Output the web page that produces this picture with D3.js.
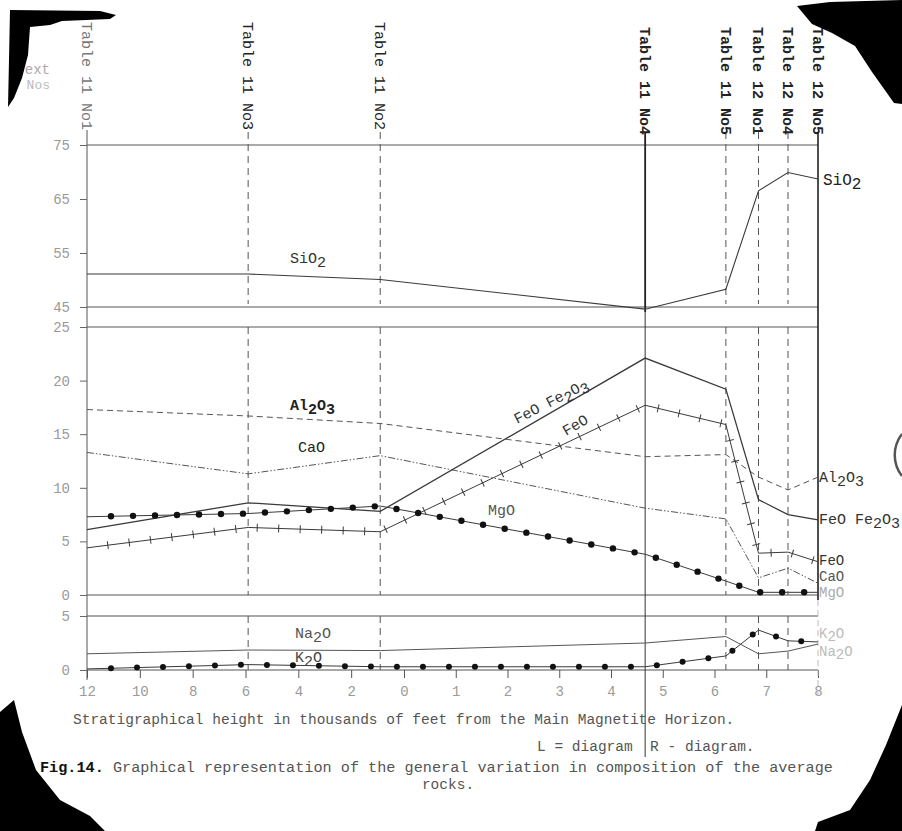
<!DOCTYPE html>
<html>
<head>
<meta charset="utf-8">
<script src="https://cdn.jsdelivr.net/npm/d3@7"></script>
<style>
body { margin: 0; background: #fff; }
svg { display: block; }
text { font-family: "Liberation Mono", "DejaVu Sans Mono", monospace; }
</style>
</head>
<body>
<svg id="chart" width="902" height="831"></svg>
<script>
// analyses along the section (thousands of feet; negative = L diagram, read 12..0)
var tables = ["Table 11 No1", "Table 11 No3", "Table 11 No2", "Table 11 No4",
              "Table 11 No5", "Table 12 No1", "Table 12 No4", "Table 12 No5"];
var tablePos = [-12, -5.9, -0.9, 4.66, 6.22, 6.85, 7.42, 8.0];

// oxide percentages, one per table
var sio2  = [51.1, 51.1, 50.1, 44.6, 48.3, 66.5, 69.9, 68.7];
var al2o3 = [17.3, 16.7, 16.0, 12.9, 13.1, 11.0, 9.8, 11.0];
var cao   = [13.3, 11.3, 13.0, 8.1, 7.1, 1.6, 2.5, 1.1];
var feTot = [6.1, 8.6, 7.8, 22.1, 19.2, 8.9, 7.5, 7.0];
var feo   = [4.4, 6.3, 5.9, 17.7, 15.9, 3.9, 4.0, 3.1];
var mgo   = [7.3, 7.6, 8.3, 3.8, 1.3, 0.25, 0.25, 0.25];
var na2o  = [1.5, 1.85, 1.8, 2.5, 3.1, 1.5, 1.75, 2.4];
var k2o   = [0.1, 0.5, 0.3, 0.3, 1.3, 3.7, 2.7, 2.6];

var xTicks = [-12, -10, -8, -6, -4, -2, 0, 1, 2, 3, 4, 5, 6, 7, 8];
var yTicksTop = [45, 55, 65, 75];
var yTicksMid = [0, 5, 10, 15, 20, 25];
var yTicksBot = [0, 5];

var svg = d3.select("#chart");
var ink = "#3a3a3a";

var x = d3.scaleLinear().domain([-12, 0, 8]).range([87, 404, 818]);
var yTop = d3.scaleLinear().domain([45, 75]).range([307, 145]);
var yMid = d3.scaleLinear().domain([0, 25]).range([595, 327]);
var yBot = d3.scaleLinear().domain([0, 5]).range([670, 616]);

var x0 = x(-12), x1 = x(8);

// panel frames
[[yTop, 75], [yTop, 45], [yMid, 25], [yMid, 0], [yBot, 5], [yBot, 0]].forEach(function(p) {
  svg.append("line")
    .attr("x1", x0).attr("x2", x1)
    .attr("y1", p[0](p[1])).attr("y2", p[0](p[1]))
    .attr("stroke", "#555").attr("stroke-width", 1);
});

// left axis line
svg.append("line").attr("x1", x0).attr("x2", x0).attr("y1", 130).attr("y2", 680)
  .attr("stroke", "#555");

// y axes
function yAxis(scale, ticks) {
  var g = svg.append("g").attr("transform", "translate(" + x0 + ",0)")
    .call(d3.axisLeft(scale).tickValues(ticks).tickFormat(d3.format("d"))
      .tickSize(7).tickPadding(10));
  g.select(".domain").remove();
  g.selectAll("line").attr("stroke", "#666");
  g.selectAll("text").attr("fill", "#9a9a9a").style("font-size", "14px")
    .style("font-family", "Liberation Mono, monospace");
}
yAxis(yTop, yTicksTop);
yAxis(yMid, yTicksMid);
yAxis(yBot, yTicksBot);

// x axis
var gx = svg.append("g").attr("transform", "translate(0," + yBot(0) + ")")
  .call(d3.axisBottom(x).tickValues(xTicks).tickFormat(function(d) { return Math.abs(d); })
    .tickSize(8).tickPadding(8));
gx.select(".domain").remove();
gx.selectAll("line").attr("stroke", "#555");
gx.selectAll("text").attr("fill", "#9a9a9a").style("font-size", "14px")
  .style("font-family", "Liberation Mono, monospace");

// vertical table lines
var panels = [[132, yTop(45) - 3], [yMid(25), yMid(0)], [yBot(5), yBot(0)]];
tables.forEach(function(t, i) {
  if (i === 0) return;
  var xp = x(tablePos[i]);
  if (i === 3) {
    svg.append("line").attr("x1", xp).attr("x2", xp).attr("y1", 132).attr("y2", 312)
      .attr("stroke", "#222").attr("stroke-width", 1.8);
    svg.append("line").attr("x1", xp).attr("x2", xp).attr("y1", 312).attr("y2", 757)
      .attr("stroke", "#333").attr("stroke-width", 1);
  } else if (i === 7) {
    svg.append("line").attr("x1", xp).attr("x2", xp).attr("y1", 132).attr("y2", 600)
      .attr("stroke", "#222").attr("stroke-width", 1.6);
    svg.append("line").attr("x1", xp).attr("x2", xp).attr("y1", 600).attr("y2", 700)
      .attr("stroke", "#bbb").attr("stroke-width", 1).attr("stroke-dasharray", "6,4");
  } else {
    panels.forEach(function(p) {
      svg.append("line").attr("x1", xp).attr("x2", xp).attr("y1", p[0]).attr("y2", p[1])
        .attr("stroke", "#555").attr("stroke-width", 1).attr("stroke-dasharray", "7,5");
    });
  }
});

// table labels (rotated, reading downwards)
svg.selectAll(".tlab").data(tables).enter().append("text")
  .attr("class", "tlab")
  .attr("transform", function(d, i) {
    return "translate(" + x(tablePos[i]) + "," + (i < 3 ? 22 : 27) + ") rotate(90)";
  })
  .attr("dy", "0.35em")
  .style("font-size", "15px")
  .attr("fill", function(d, i) { return i === 0 ? "#777" : "#222"; })
  .attr("font-weight", function(d, i) { return i >= 3 ? "bold" : "normal"; })
  .text(function(d) { return d; });

// series
function series(scale, vals, opts) {
  var line = d3.line().x(function(d, i) { return x(tablePos[i]); }).y(function(d) { return scale(d); });
  return svg.append("path").datum(vals).attr("d", line)
    .attr("fill", "none").attr("stroke", opts.color || ink)
    .attr("stroke-width", opts.width || 1)
    .attr("stroke-dasharray", opts.dash || null);
}

function along(path, step, start) {
  var node = path.node(), len = node.getTotalLength(), pts = [];
  for (var s = start; s < len - 4; s += step) {
    var p = node.getPointAtLength(s), q = node.getPointAtLength(Math.min(len, s + 1));
    pts.push({ x: p.x, y: p.y, a: Math.atan2(q.y - p.y, q.x - p.x) * 180 / Math.PI });
  }
  return pts;
}

series(yTop, sio2, { width: 1.1 });
series(yMid, al2o3, { dash: "6,4", color: "#555" });
series(yMid, cao, { dash: "7,2,1.5,2,1.5,2", color: "#555" });
series(yMid, feTot, { width: 1.3 });
var feoPath = series(yMid, feo, { width: 1 });
var mgoPath = series(yMid, mgo, { width: 1 });
series(yBot, na2o, { width: 1, color: "#555" });
var k2oPath = series(yBot, k2o, { width: 1 });

svg.selectAll(".fetick").data(along(feoPath, 21.5, 21)).enter().append("line")
  .attr("class", "fetick")
  .attr("transform", function(d) { return "translate(" + d.x + "," + d.y + ") rotate(" + d.a + ")"; })
  .attr("x1", 0).attr("x2", 0).attr("y1", -4).attr("y2", 4)
  .attr("stroke", ink).attr("stroke-width", 1);

svg.selectAll(".mgdot").data(along(mgoPath, 22, 24)).enter().append("circle")
  .attr("class", "mgdot").attr("cx", function(d) { return d.x; }).attr("cy", function(d) { return d.y; })
  .attr("r", 3.2).attr("fill", "#111");

svg.selectAll(".kdot").data(along(k2oPath, 26, 24)).enter().append("circle")
  .attr("class", "kdot").attr("cx", function(d) { return d.x; }).attr("cy", function(d) { return d.y; })
  .attr("r", 3).attr("fill", "#111");

// chemical labels: "_n" marks a subscript digit
function chem(px, py, str, opts) {
  opts = opts || {};
  var sub = opts.sub || 4, shift = 0;
  var t = svg.append("text").attr("x", px).attr("y", py)
    .style("font-size", (opts.size || 15) + "px")
    .attr("fill", opts.color || "#333")
    .attr("font-weight", opts.bold ? "bold" : "normal");
  if (opts.rotate) t.attr("transform", "rotate(" + opts.rotate + "," + px + "," + py + ")");
  str.split(/(_\d)/).forEach(function(part) {
    if (!part) return;
    if (part[0] === "_") {
      t.append("tspan").attr("dy", sub - shift).text(part.slice(1));
      shift = sub;
    } else {
      t.append("tspan").attr("dy", -shift).text(part);
      shift = 0;
    }
  });
  return t;
}

chem(290, 263, "SiO_2");
chem(823, 185, "SiO_2", { size: 16, color: "#222" });
chem(290, 410, "Al_2O_3", { bold: true, color: "#222" });
chem(298, 452, "CaO", { color: "#222" });
chem(488, 515, "MgO", { color: "#555" });
chem(517, 424, "FeO Fe_2O_3", { rotate: -27, color: "#333" });
chem(566, 436, "FeO", { rotate: -30, color: "#333" });
chem(819, 482, "Al_2O_3", { color: "#333" });
chem(819, 524, "FeO Fe_2O_3", { color: "#333" });
chem(819, 565, "FeO", { color: "#333", size: 14 });
chem(819, 581, "CaO", { color: "#555", size: 14 });
chem(819, 597, "MgO", { color: "#aaa", size: 14 });
chem(295, 638, "Na_2O", { color: "#555" });
chem(295, 662, "K_2O", { color: "#444" });
chem(819, 638, "K_2O", { color: "#bbb", size: 14, sub: 3 });
chem(819, 656, "Na_2O", { color: "#bbb", size: 14, sub: 3 });

// captions
var cap = svg.append("g").style("font-size", "14.5px");
cap.append("text").attr("x", 73).attr("y", 724).attr("fill", "#555")
  .text("Stratigraphical height in thousands of feet from the Main Magnetite Horizon.");
cap.append("text").attr("x", 537).attr("y", 751).attr("fill", "#555")
  .text("L = diagram\u00a0\u00a0R - diagram.");
var fig = cap.append("text").attr("x", 40).attr("y", 772).attr("fill", "#555").style("font-size", "15.2px");
fig.append("tspan").attr("fill", "#111").attr("font-weight", "bold").text("Fig.14.");
fig.append("tspan").text(" Graphical representation of the general variation in composition of the average");
cap.append("text").attr("x", 448).attr("y", 789).attr("text-anchor", "middle").attr("fill", "#555")
  .style("font-size", "14.5px").text("rocks.");

// faded margin note
svg.append("text").attr("x", 50).attr("y", 74).attr("text-anchor", "end").attr("fill", "#aaa")
  .style("font-size", "14px").text("Text");
svg.append("text").attr("x", 50).attr("y", 89).attr("text-anchor", "end").attr("fill", "#bbb")
  .style("font-size", "13px").text("Nos");

// scan artefacts: photo corners and punch hole
var corners = [
  [[10,10],[100,11],[116,15],[110,19],[62,21],[50,25],[30,27],[28,55],[22,78],[14,98],[8,107],[9,60]],
  [[797,6],[830,2],[902,0],[902,104],[894,103],[872,72],[855,46],[832,33],[812,24]],
  [[0,712],[14,700],[22,732],[36,770],[60,800],[90,816],[105,831],[0,831]],
  [[902,705],[902,831],[815,831],[818,822],[850,810],[870,780],[886,745]]
];
svg.selectAll(".corner").data(corners).enter().append("path")
  .attr("class", "corner")
  .attr("d", function(d) { return d3.line()(d) + "Z"; })
  .attr("fill", "#000");
svg.append("path").attr("d", "M902,434 A34,34 0 0 0 902,476")
  .attr("fill", "none").attr("stroke", "#555").attr("stroke-width", 2.5);
</script>
</body>
</html>
